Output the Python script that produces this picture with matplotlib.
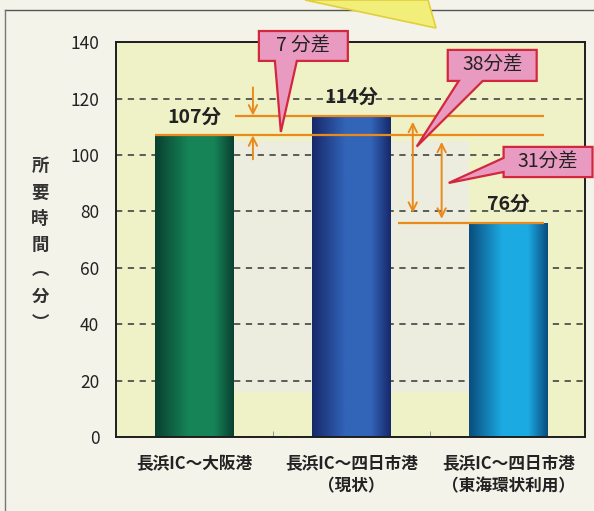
import numpy as np
import matplotlib
matplotlib.use("Agg")
import matplotlib.pyplot as plt
from matplotlib.colors import LinearSegmentedColormap
from matplotlib.patches import Polygon, Rectangle
from matplotlib.lines import Line2D

plt.rcParams['font.family'] = ['Noto Sans CJK JP', 'DejaVu Sans']

# ---- data ----
categories = ["長浜IC～大阪港", "長浜IC～四日市港\n（現状）", "長浜IC～四日市港\n（東海環状利用）"]
minutes = [107, 114, 76]
yticks = [0, 20, 40, 60, 80, 100, 120, 140]
ylabel_chars = ["所", "要", "時", "間", "︵", "分", "︶"]

# bar shading: (edge colour, centre colour)
bar_shades = [("#0a4030", "#168457"), ("#17286a", "#3264b8"), ("#0a4d7e", "#1caae2")]

ORANGE = "#ea8a1c"
PINK = "#e99ac0"
RED = "#d3263f"
TEXT = "#222222"

fig = plt.figure(figsize=(5.94, 5.11), dpi=100, facecolor="#f3f3ea")
ax = fig.add_axes([116 / 594, 1 - 437 / 511, 469 / 594, 394.7 / 511])
ax.set_facecolor("#eff2c6")

# outer frame of the panel
fig.add_artist(Line2D([5 / 594, 1.0], [1 - 10 / 511] * 2, color="#555555", lw=1.0))
fig.add_artist(Line2D([5 / 594] * 2, [0, 1 - 10 / 511], color="#777777", lw=1.0))
# yellow pointer coming in from above
fig.add_artist(Polygon([(305 / 594, 1.0), (428 / 594, 1.0), (436 / 594, 1 - 28 / 511)],
                       closed=True, transform=fig.transFigure,
                       facecolor="#f1ef7a", edgecolor="#e2cf3a", lw=1.2, zorder=5))

x = np.arange(len(minutes))
width = 0.5

# paler panel between the bars
ax.add_patch(Rectangle((0.25, 16), 1.5, 89, facecolor="#ecedde", edgecolor="none", zorder=0.2))

bars = ax.bar(x, minutes, width=width, color="none", edgecolor="none", zorder=2)
for patch, (edge, centre) in zip(bars, bar_shades):
    cmap = LinearSegmentedColormap.from_list("cyl", [(0, edge), (0.42, centre), (0.75, centre), (1, edge)])
    grad = np.linspace(0, 1, 128).reshape(1, -1)
    im = ax.imshow(grad, cmap=cmap, aspect="auto", interpolation="bilinear",
                   extent=[patch.get_x(), patch.get_x() + patch.get_width(), 0, patch.get_height()],
                   zorder=2)
    im.set_clip_path(patch)

ax.set_xlim(-0.5, 2.49)
ax.set_ylim(0, 140)

# gridlines
ax.set_yticks(yticks)
ax.set_axisbelow(True)
ax.yaxis.grid(True, linestyle=(0, (3.6, 3.2)), color="#4a4a4a", lw=1.25)
ax.tick_params(axis="y", length=0, pad=12, labelsize=12.5, labelcolor=TEXT)

ax.set_xticks(x)
ax.set_xticklabels(categories, fontsize=12, fontweight="bold", color=TEXT, linespacing=1.3)
ax.tick_params(axis="x", length=0, pad=13)
ax.set_xticks([0.5, 1.5], minor=True)
ax.tick_params(axis="x", which="minor", length=4, direction="in", color="#888888")

for s in ax.spines.values():
    s.set_linewidth(1.4)
    s.set_color("#1e1e1e")

# y label, stacked vertically
ax.text(-0.162, 0.487, "\n".join(ylabel_chars), transform=ax.transAxes, ha="center", va="center",
        fontsize=12.5, fontweight="bold", color="#333333", linespacing=1.58)

# value labels
for xi, v in zip(x, minutes):
    ax.annotate(f"{v}分", (xi, v), xytext=(0, 13), textcoords="offset points",
                ha="center", va="center", fontsize=14, fontweight="bold", color=TEXT, zorder=6)

# reference lines at each bar's value
line_start = [-0.25, 0.26, 1.30]
line_end = 2.23
for v, xs in zip(minutes, line_start):
    ax.plot([xs, line_end], [v, v], color=ORANGE, lw=1.6, zorder=4, solid_capstyle="butt")

arrow_kw = dict(color=ORANGE, lw=1.4, shrinkA=0, shrinkB=0)
osaka, yokkaichi, tokai = minutes
# 7-minute gap: two arrows pointing in from outside
ax.annotate("", xy=(0.373, yokkaichi), xytext=(0.373, yokkaichi + 10),
            arrowprops=dict(arrowstyle="->,head_length=0.6,head_width=0.3", **arrow_kw), zorder=5)
ax.annotate("", xy=(0.373, osaka), xytext=(0.373, osaka - 8.5),
            arrowprops=dict(arrowstyle="->,head_length=0.6,head_width=0.3", **arrow_kw), zorder=5)
# 38- and 31-minute gaps: double-headed arrows
ax.annotate("", xy=(1.392, yokkaichi - 2.2), xytext=(1.392, tokai + 3.5),
            arrowprops=dict(arrowstyle="<->,head_length=0.6,head_width=0.3", **arrow_kw), zorder=5)
ax.annotate("", xy=(1.576, osaka - 2.3), xytext=(1.576, tokai + 1.4),
            arrowprops=dict(arrowstyle="<->,head_length=0.6,head_width=0.3", **arrow_kw), zorder=5)


def diff_label(d):
    return f"{d} 分差" if d < 10 else f"{d}分差"


def callout(box, tip, base, side, text):
    L, R, B, T = box
    if side == "bottom":
        b1, b2 = base
        verts = [(L, T), (R, T), (R, B), (b2, B), tip, (b1, B), (L, B)]
    else:
        y1, y2 = base
        verts = [(L, T), (R, T), (R, B), (L, B), (L, y1), tip, (L, y2)]
    ax.add_patch(Polygon(verts, closed=True, facecolor=PINK, edgecolor=RED, lw=1.6,
                         joinstyle="miter", zorder=7, clip_on=False))
    ax.text((L + R) / 2, (B + T) / 2, text, ha="center", va="center", fontsize=14,
            color=TEXT, zorder=8, clip_on=False)


callout((0.411, 0.978, 133.4, 144.0), (0.551, osaka + 1.2), (0.513, 0.653), "bottom",
        diff_label(yokkaichi - osaka))
callout((1.615, 2.182, 126.3, 137.3), (1.417, 103.0), (1.685, 1.838), "bottom",
        diff_label(yokkaichi - tokai))
callout((1.971, 2.538, 92.2, 102.9), (1.621, 90.1), (94.0, 99.0), "left",
        diff_label(osaka - tokai))

fig.savefig("out.png", dpi=100, facecolor=fig.get_facecolor())
